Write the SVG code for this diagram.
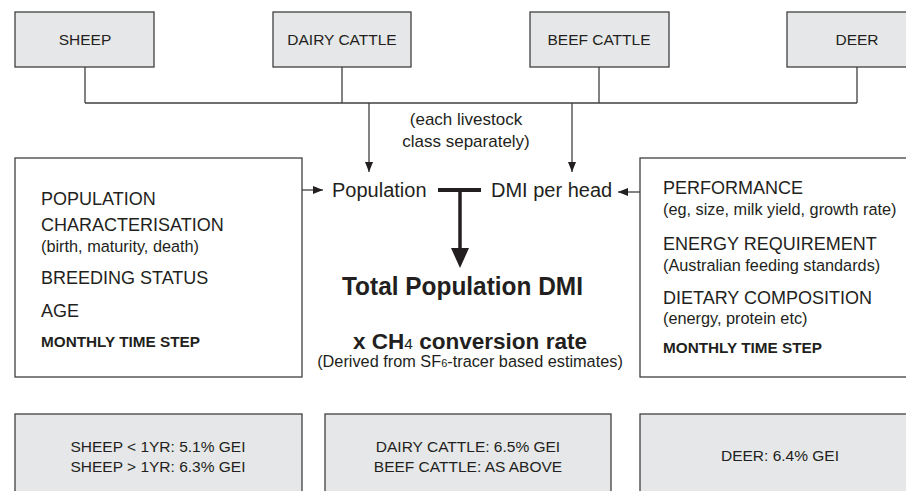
<svg xmlns="http://www.w3.org/2000/svg" width="906" height="491" viewBox="0 0 906 491">
<defs>
<style>
text{font-family:"Liberation Sans",Arial,sans-serif;fill:#231f20}
.box{fill:#e6e7e8;stroke:#404040;stroke-width:1.3}
.wbox{fill:#fff;stroke:#404040;stroke-width:1.3}
.ln{fill:none;stroke:#404040;stroke-width:1.3}
.lbl{font-size:15.5px;text-anchor:middle}
.big{font-size:18px}
.sm{font-size:16.3px}
.note{font-size:17px;text-anchor:middle}
.bold{font-size:14px;font-weight:bold}
.mid{font-size:20px}
</style>
<marker id="ah" viewBox="0 0 10 10" refX="10" refY="5" markerWidth="10" markerHeight="10" markerUnits="userSpaceOnUse" orient="auto">
<path d="M0,1 L10,5 L0,9 Z" fill="#231f20"/>
</marker>
</defs>
<rect width="906" height="491" fill="#fff"/>

<g id="sheep"><rect class="box" x="15" y="12" width="139" height="55"/><text class="lbl" x="85" y="45">SHEEP</text></g>
<g id="dairy"><rect class="box" x="273" y="12" width="138" height="55"/><text class="lbl" x="342" y="45">DAIRY CATTLE</text></g>
<g id="beef"><rect class="box" x="530" y="12" width="139" height="55"/><text class="lbl" x="599" y="45">BEEF CATTLE</text></g>
<g id="deer"><rect class="box" x="787" y="12" width="140" height="55"/><text class="lbl" x="857" y="45">DEER</text></g>

<g id="connectors">
<path class="ln" d="M85,67 V103 M342,67 V103 M599,67 V103 M857,67 V103 M85,103 H857"/>
<path class="ln" d="M369,103 V172" marker-end="url(#ah)"/>
<path class="ln" d="M572,103 V172" marker-end="url(#ah)"/>
<path class="ln" d="M302,190 H323" marker-end="url(#ah)"/>
<path class="ln" d="M640,192 H618" marker-end="url(#ah)"/>
<path d="M438,190 H481" stroke="#231f20" stroke-width="4" fill="none"/>
<path d="M460,190 V250" stroke="#231f20" stroke-width="3.5" fill="none"/>
<path d="M451,248 L469,248 L460,268 Z" fill="#231f20"/>
</g>

<g id="note">
<text class="note" x="466" y="125">(each livestock</text>
<text class="note" x="466" y="147">class separately)</text>
</g>

<g id="population-box">
<rect class="wbox" x="15" y="158" width="287" height="219"/>
<text class="big" x="41" y="205">POPULATION</text>
<text class="big" x="41" y="231">CHARACTERISATION</text>
<text class="sm" x="41" y="252">(birth, maturity, death)</text>
<text class="big" x="41" y="284">BREEDING STATUS</text>
<text class="big" x="41" y="317">AGE</text>
<text class="bold" x="41" y="347" textLength="159" lengthAdjust="spacingAndGlyphs">MONTHLY TIME STEP</text>
</g>

<g id="population"><text class="mid" x="332" y="197">Population</text></g>
<g id="dmi-head"><text class="mid" x="491" y="197">DMI per head</text></g>

<g id="performance-box">
<rect class="wbox" x="640" y="158" width="290" height="219"/>
<text class="big" x="663" y="194">PERFORMANCE</text>
<text class="sm" x="663" y="215">(eg, size, milk yield, growth rate)</text>
<text class="big" x="663" y="250">ENERGY REQUIREMENT</text>
<text class="sm" x="663" y="271">(Australian feeding standards)</text>
<text class="big" x="663" y="304">DIETARY COMPOSITION</text>
<text class="sm" x="663" y="324">(energy, protein etc)</text>
<text class="bold" x="663" y="353" textLength="159" lengthAdjust="spacingAndGlyphs">MONTHLY TIME STEP</text>
</g>

<g id="total">
<text x="342" y="295" font-size="25" font-weight="bold" textLength="241" lengthAdjust="spacingAndGlyphs">Total Population DMI</text>
<text x="353" y="349" font-size="22" font-weight="bold" textLength="234" lengthAdjust="spacingAndGlyphs">x CH<tspan font-size="15" font-weight="normal">4</tspan> conversion rate</text>
<text class="sm" x="470" y="367" text-anchor="middle">(Derived from SF<tspan font-size="11">6</tspan>-tracer based estimates)</text>
</g>

<g id="sheep-rate"><rect class="box" x="15" y="414" width="287" height="90"/>
<text class="lbl" x="158" y="452">SHEEP &lt; 1YR: 5.1% GEI</text>
<text class="lbl" x="158" y="472">SHEEP &gt; 1YR: 6.3% GEI</text></g>
<g id="cattle-rate"><rect class="box" x="325" y="414" width="286" height="90"/>
<text class="lbl" x="468" y="452">DAIRY CATTLE: 6.5% GEI</text>
<text class="lbl" x="468" y="472">BEEF CATTLE: AS ABOVE</text></g>
<g id="deer-rate"><rect class="box" x="640" y="414" width="290" height="90"/>
<text class="lbl" x="780" y="461">DEER: 6.4% GEI</text></g>
</svg>
